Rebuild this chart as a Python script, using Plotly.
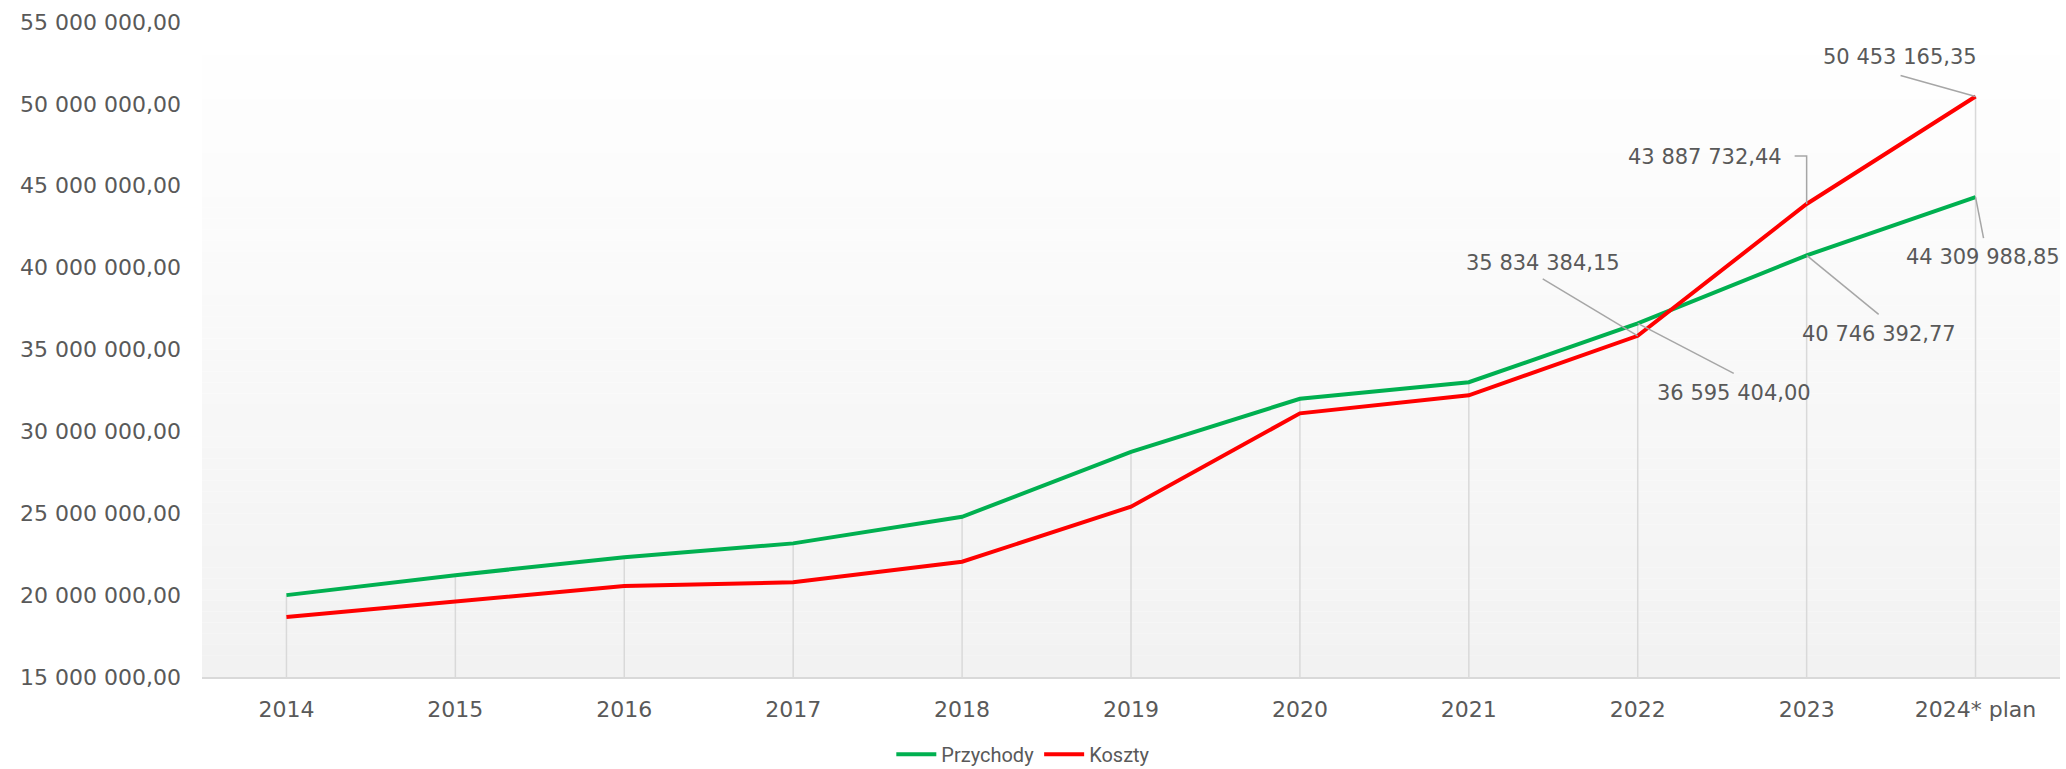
import plotly.graph_objects as go


# Data
years = ["2014", "2015", "2016", "2017", "2018", "2019", "2020", "2021", "2022", "2023", "2024* plan"]
przychody = [20_000_000, 21_220_000, 22_310_000, 23_160_000, 24_780_000, 28_750_000,
             31_990_000, 33_000_000, 36_595_404.00, 40_746_392.77, 44_309_988.85]
koszty = [18_670_000, 19_600_000, 20_550_000, 20_780_000, 22_040_000, 25_400_000,
          31_100_000, 32_200_000, 35_834_384.15, 43_887_732.44, 50_453_165.35]

y_min, y_max = 15_000_000, 55_000_000

GREEN = "#00b050"
RED = "#ff0000"
TEXT = "#595959"
FONT = "DejaVu Sans"


def fmt_pl(v: float) -> str :
    return f"{v:,.2f}".replace(",", " ").replace(".", ",")


fig = go.Figure()

# Drop lines from the highest point of each year down to the axis
drop_x, drop_y = [], []
for yr, a, b in zip(years, przychody, koszty) :
    drop_x += [yr, yr, None]
    drop_y += [y_min, max(a, b), None]

fig.add_trace(go.Scatter(
    x=drop_x, y=drop_y, mode="lines",
    line=dict(color="#d9d9d9", width=1.5),
    showlegend=False, hoverinfo="skip"
))

fig.add_trace(go.Scatter(
    x=years, y=przychody, mode="lines", name="Przychody",
    line=dict(color=GREEN, width=4)
))
fig.add_trace(go.Scatter(
    x=years, y=koszty, mode="lines", name="Koszty",
    line=dict(color=RED, width=4)
))

# Plot area gradient (white at top -> light grey at bottom)
n_steps = 60
for i in range(n_steps) :
    t = i / (n_steps - 1)
    c = round(255 - 13 * t)
    fig.add_shape(
        type="rect", xref="paper", yref="paper",
        x0=0, x1=1, y0=1 - (i + 1) / n_steps, y1=1 - i / n_steps,
        fillcolor=f"rgb({c},{c},{c})", line=dict(width=0), layer="below"
    )

# Data labels: (series, index, text shift px, leader path in px relative to the point)
labels = [
    (koszty, 10, (-76, 39), "M0,0 L-75,21"),
    (przychody, 10, (7, -60), "M0,0 L8,-41"),
    (koszty, 9, None, "M0,0 L0,48 L-12,48"),
    (przychody, 9, (72, -79), "M0,0 L72,-59"),
    (przychody, 8, (96, -70), "M0,0 L96,-50"),
    (koszty, 8, (-95, 73), "M0,0 L-95,57"),
]

for series, idx, shift, path in labels :
    if shift is None :
        pos = dict(xanchor="right", xshift=-23, yshift=47)
    else :
        pos = dict(xshift=shift[0], yshift=shift[1])
    fig.add_annotation(
        x=idx, y=series[idx], xref="x", yref="y",
        text=fmt_pl(series[idx]), showarrow=False,
        font=dict(family=FONT, size=21, color=TEXT), **pos
    )
    fig.add_shape(
        type="path", xref="x", yref="y",
        xsizemode="pixel", ysizemode="pixel",
        xanchor=idx, yanchor=series[idx],
        path=path, line=dict(color="#a6a6a6", width=1.5), layer="above"
    )

fig.update_layout(
    width=2066, height=769,
    margin=dict(l=202, r=6, t=22, b=92, autoexpand=False),
    paper_bgcolor="white", plot_bgcolor="white",
    separators=", ",
    font=dict(family=FONT, size=22, color=TEXT),
    legend=dict(
        orientation="h", x=0.371, xanchor="left", y=-0.118, yanchor="middle",
        font=dict(family="Roboto", size=20, color=TEXT),
        itemwidth=40, bgcolor="rgba(0,0,0,0)"
    ),
    xaxis=dict(
        type="category", range=[-0.5, len(years) - 0.5],
        showgrid=False, zeroline=False, automargin=False,
        showline=True, linecolor="#d9d9d9", linewidth=2,
        ticks="", ticklabelstandoff=12,
        tickfont=dict(family=FONT, size=22, color=TEXT)
    ),
    yaxis=dict(
        range=[y_min, y_max], dtick=5_000_000, tickformat=",.2f",
        showgrid=False, zeroline=False, showline=False, automargin=False,
        ticks="", ticklabelstandoff=20,
        tickfont=dict(family=FONT, size=22, color=TEXT)
    ),
)

# Remove the default page margin so the figure fills the window exactly
fig.write_html(
    "out.html",
    config={"displayModeBar": False},
    post_script="document.body.style.margin = '0';"
)
